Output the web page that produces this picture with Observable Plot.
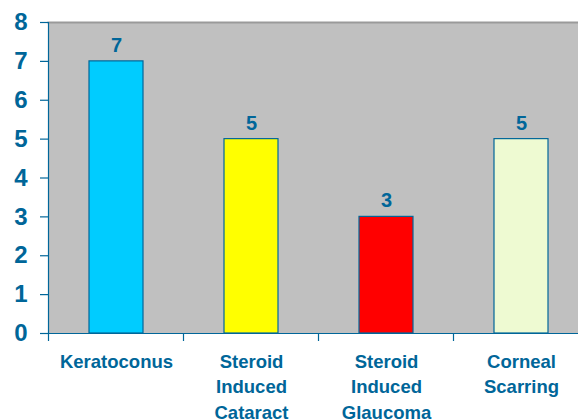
<!DOCTYPE html>
<html><head><meta charset="utf-8">
<script src="https://cdn.jsdelivr.net/npm/d3@7"></script>
<script src="https://cdn.jsdelivr.net/npm/@observablehq/plot@0.6"></script>
<style>html,body{margin:0;padding:0;background:#fff;overflow:hidden}</style>
</head><body><div id="chart"></div>
<script>
const categories = ["Keratoconus", "Steroid Induced Cataract", "Steroid Induced Glaucoma", "Corneal Scarring"];
const labels = ["Keratoconus", "Steroid\nInduced\nCataract", "Steroid\nInduced\nGlaucoma", "Corneal\nScarring"];
const values = [7, 5, 3, 5];
const colors = ["#00CCFF", "#FFFF00", "#FF0000", "#EEFAD2"];
const yTicks = [0, 1, 2, 3, 4, 5, 6, 7, 8];

const data = categories.map((c, i) => ({category: c, label: labels[i], value: values[i], color: colors[i]}));
const ink = "#006699";
const font = "'Liberation Sans', Arial, Helvetica, sans-serif";
const PAD_INNER = 0.6;

function boundaryTicks(index, scales) {
  const x = scales.x;
  const step = x(categories[1]) - x(categories[0]);
  const bw = step * (1 - PAD_INNER);
  const y0 = scales.y(0);
  const xs = categories.map(c => x(c) - (step - bw) / 2);
  xs.push(xs[xs.length - 1] + step);
  const g = d3.create("svg:g");
  g.selectAll("line").data(xs).join("line")
    .attr("x1", d => d).attr("x2", d => d)
    .attr("y1", y0).attr("y2", y0 + 8)
    .attr("stroke", ink).attr("stroke-width", 1.2);
  return g.node();
}

const plot = Plot.plot({
  width: 578,
  height: 419,
  marginLeft: 48,
  marginRight: -10,
  marginTop: 22,
  marginBottom: 86,
  style: {fontFamily: font, background: "white"},
  x: {domain: categories, paddingInner: PAD_INNER, paddingOuter: 0.3, axis: null},
  y: {domain: [0, 8], axis: null},
  color: {type: "identity"},
  marks: [
    Plot.frame({fill: "#C0C0C0"}),
    Plot.frame({anchor: "top", stroke: "#9A9A9A", strokeWidth: 2}),
    Plot.barY(data, {x: "category", y: "value", fill: "color", stroke: ink, strokeWidth: 1.2}),
    Plot.frame({anchor: "left", stroke: ink, strokeWidth: 1.2}),
    Plot.ruleY([0], {stroke: ink, strokeWidth: 1.2}),
    Plot.axisY({ticks: yTicks, label: null, tickSize: 8, tickPadding: 13, fontSize: 24, fontWeight: "bold", stroke: ink, fill: ink, strokeWidth: 1.2, tickFormat: d => String(d)}),
    boundaryTicks,
    Plot.text(data, {x: "category", y: "value", text: d => String(d.value), dy: -16, fontSize: 20, fontWeight: "bold", fill: ink}),
    Plot.text(data, {x: "category", y: 0, text: "label", lineAnchor: "top", dy: 16, lineHeight: 1.38, fontSize: 18.5, fontWeight: "bold", fill: ink})
  ]
});
document.getElementById("chart").appendChild(plot);
</script>
</body></html>
